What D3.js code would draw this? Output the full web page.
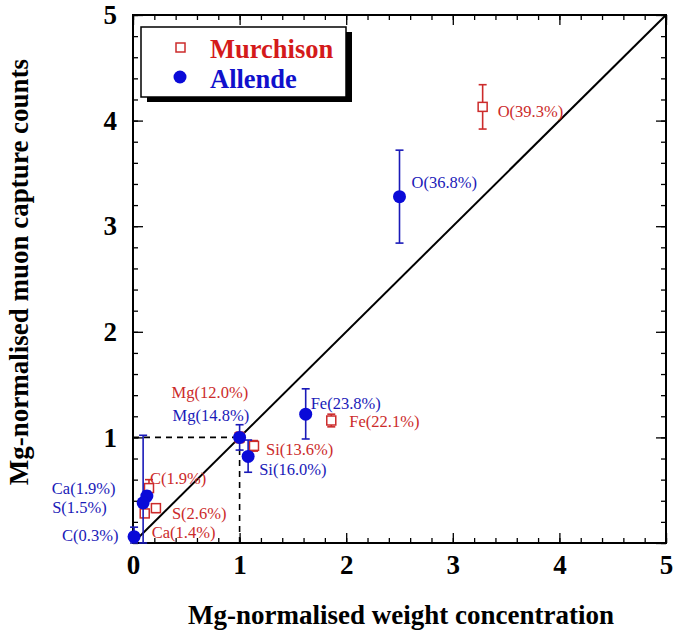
<!DOCTYPE html>
<html><head><meta charset="utf-8">
<script src="https://cdn.jsdelivr.net/npm/d3@7"></script>
<style>body{margin:0;background:#fff}svg{display:block}</style>
</head><body>
<script>
// Murchison (open squares)
const murLabels = ["O(39.3%)","Mg(12.0%)","Si(13.6%)","Fe(22.1%)","C(1.9%)","S(2.6%)","Ca(1.4%)"];
const murX      = [3.28, 1.00, 1.135, 1.86, 0.15, 0.215, 0.11];
const murY      = [4.13, 1.00, 0.92, 1.16, 0.52, 0.33, 0.28];
const murLo     = [3.92, 0.95, 0.87, 1.10, 0.45, 0.29, 0.25];
const murHi     = [4.34, 1.05, 0.97, 1.22, 0.60, 0.37, 0.31];
// Allende (filled circles)
const allLabels = ["O(36.8%)","Mg(14.8%)","Si(16.0%)","Fe(23.8%)","Ca(1.9%)","S(1.5%)","C(0.3%)"];
const allX      = [2.50, 1.00, 1.08, 1.62, 0.13, 0.095, 0.01];
const allY      = [3.28, 1.00, 0.82, 1.22, 0.445, 0.38, 0.06];
const allLo     = [2.84, 0.88, 0.67, 0.985, 0.40, 0.00, 0.00];
const allHi     = [3.72, 1.12, 0.975, 1.46, 0.49, 1.02, 0.15];
const xTicks = [0,1,2,3,4,5];
const yTicks = [0,1,2,3,4,5];

const W=685,H=639, L=133,R=666,T=15,B=543;
const RED="#cc2b2b", BLUE="#1a1ab8", LRED="#d41a1a", LBLUE="#1010cc";
const svg=d3.select("body").append("svg").attr("width",W).attr("height",H);
const x=d3.scaleLinear().domain([0,5]).range([L,R]);
const y=d3.scaleLinear().domain([0,5]).range([B,T]);
const serif="'Liberation Serif','Times New Roman',serif";

function ax(gen,tr){
  const g=svg.append("g").attr("transform",tr).call(gen);
  g.select(".domain").remove();
  g.selectAll("line").attr("stroke","#000").attr("stroke-width",1.3);
  return g;
}
const minor=d3.range(0,5.001,0.2);
ax(d3.axisBottom(x).tickValues(minor).tickSize(-5).tickFormat(""),`translate(0,${B})`);
ax(d3.axisTop(x).tickValues(minor).tickSize(-5).tickFormat(""),`translate(0,${T})`);
ax(d3.axisLeft(y).tickValues(minor).tickSize(-5).tickFormat(""),`translate(${L},0)`);
ax(d3.axisRight(y).tickValues(minor).tickSize(-5).tickFormat(""),`translate(${R},0)`);
const gx=ax(d3.axisBottom(x).tickValues(xTicks).tickSize(-10).tickFormat(d3.format("d")),`translate(0,${B})`);
const gy=ax(d3.axisLeft(y).tickValues(yTicks.filter(d=>d>0)).tickSize(-10).tickFormat(d3.format("d")),`translate(${L},0)`);
ax(d3.axisTop(x).tickValues(xTicks).tickSize(-10).tickFormat(""),`translate(0,${T})`);
ax(d3.axisRight(y).tickValues(yTicks).tickSize(-10).tickFormat(""),`translate(${R},0)`);
[gx,gy].forEach(g=>g.selectAll("text").attr("font-family",serif).attr("font-weight","bold").attr("font-size",27).attr("fill","#000"));
gx.selectAll("text").attr("dy","0.71em").attr("y",12);
gy.selectAll("text").attr("x",-16);

svg.append("rect").attr("x",L).attr("y",T).attr("width",R-L).attr("height",B-T)
  .attr("fill","none").attr("stroke","#000").attr("stroke-width",2);

svg.append("line").attr("x1",x(0)).attr("y1",y(0)).attr("x2",x(5)).attr("y2",y(5)).attr("stroke","#000").attr("stroke-width",2);
svg.append("line").attr("x1",x(0)).attr("y1",y(1)).attr("x2",x(1)).attr("y2",y(1)).attr("stroke","#000").attr("stroke-width",1.6).attr("stroke-dasharray","6,5");
svg.append("line").attr("x1",x(1)).attr("y1",y(0)).attr("x2",x(1)).attr("y2",y(1)).attr("stroke","#000").attr("stroke-width",1.6).attr("stroke-dasharray","6,5");

function errs(X,lo,hi,col){
  const g=svg.append("g").attr("stroke",col).attr("stroke-width",1.6);
  X.forEach((v,i)=>{
    const cx=x(v);
    g.append("line").attr("x1",cx).attr("x2",cx).attr("y1",y(lo[i])).attr("y2",y(hi[i]));
    g.append("line").attr("x1",cx-4).attr("x2",cx+4).attr("y1",y(lo[i])).attr("y2",y(lo[i]));
    g.append("line").attr("x1",cx-4).attr("x2",cx+4).attr("y1",y(hi[i])).attr("y2",y(hi[i]));
  });
}
errs(murX,murLo,murHi,RED);
murX.forEach((v,i)=>svg.append("rect").attr("x",x(v)-4.5).attr("y",y(murY[i])-4.5).attr("width",9).attr("height",9)
  .attr("fill","#fff").attr("stroke",RED).attr("stroke-width",1.5));
errs(allX,allLo,allHi,BLUE);
allX.forEach((v,i)=>svg.append("circle").attr("cx",x(v)).attr("cy",y(allY[i])).attr("r",6.5).attr("fill","#0a0ad8"));

// point labels (anchor offsets in px)
const murOff=[[15,4],[-68,-45],[12,3],[18,1],[1,-10],[16,5],[7,19]];
const allOff=[[12,-14],[-67,-22],[11,13],[5,-11],[-95,-8],[-91,4],[-72,-1]];
function labels(X,Y,txt,off,col){
  txt.forEach((t,i)=>svg.append("text").attr("x",x(X[i])+off[i][0]).attr("y",y(Y[i])+off[i][1])
    .attr("dy","0.35em").attr("font-family",serif).attr("font-size",16.5).attr("fill",col).text(t));
}
labels(murX,murY,murLabels,murOff,RED);
labels(allX,allY,allLabels,allOff,BLUE);

// legend
svg.append("rect").attr("x",147).attr("y",32).attr("width",205).attr("height",70).attr("fill","#000");
svg.append("rect").attr("x",141).attr("y",27).attr("width",205).attr("height",70).attr("fill","#fff").attr("stroke","#000").attr("stroke-width",1.5);
svg.append("rect").attr("x",176).attr("y",43).attr("width",9).attr("height",9).attr("fill","#fff").attr("stroke",RED).attr("stroke-width",1.5);
svg.append("circle").attr("cx",180).attr("cy",77).attr("r",6.5).attr("fill","#0a0ad8");
svg.append("text").attr("x",210).attr("y",58).attr("font-family",serif).attr("font-weight","bold").attr("font-size",26.5).attr("fill",LRED).text("Murchison");
svg.append("text").attr("x",210).attr("y",88).attr("font-family",serif).attr("font-weight","bold").attr("font-size",26.5).attr("fill",LBLUE).text("Allende");

// axis titles
svg.append("text").attr("x",401).attr("y",624).attr("text-anchor","middle").attr("font-family",serif).attr("font-weight","bold").attr("font-size",27).text("Mg-normalised weight concentration");
svg.append("text").attr("transform","translate(28,272) rotate(-90)").attr("text-anchor","middle").attr("font-family",serif).attr("font-weight","bold").attr("font-size",27).text("Mg-normalised muon capture counts");
</script>
</body></html>
